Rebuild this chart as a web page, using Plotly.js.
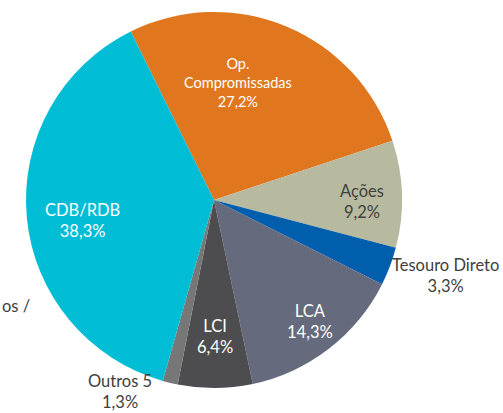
<!DOCTYPE html>
<html><head><meta charset="utf-8">
<script src="https://cdn.plot.ly/plotly-3.0.1.min.js"></script>
<style>body{margin:0;background:#fff}#c{width:503px;height:413px}</style>
</head><body><div id="c"></div>
<script>
const labels = ["Op.<br>Compromissadas", "Ações", "Tesouro Direto", "LCA", "LCI", "Outros 5", "CDB/RDB"];
const values = [27.2, 9.2, 3.3, 14.3, 6.4, 1.3, 38.3];
const colors = ["#E0771E", "#B7BA9F", "#005EAC", "#666A7D", "#4D4D4F", "#777777", "#00BDD6"];
const textColors = ["#FFFFFF", "#404040", "#404040", "#FFFFFF", "#FFFFFF", "#404040", "#FFFFFF"];
const textSizes = [14.5, 16.5, 16.5, 16.5, 16.5, 16.5, 16.5];
// label centre positions in pixels (layout only)
const labelPos = [[238, 82], [362, 201], [446, 275], [310, 321], [215, 336], [120, 391], [82, 220]];
const cutLabel = "os /";

const W = 503, H = 413, M = {l: 26, r: 101, t: 12, b: 25};
const pw = W - M.l - M.r, ph = H - M.t - M.b;
const toX = px => (px - M.l) / pw;
const toY = py => (H - M.b - py) / ph;
const total = values.reduce((a, b) => a + b, 0);
const fmt = v => (v / total * 100).toFixed(1).replace(".", ",") + "%";
const font = "Lato, 'Open Sans', sans-serif";

const ann = labels.map((lab, i) => ({
  text: lab + "<br>" + fmt(values[i]),
  xref: "paper", yref: "paper",
  x: toX(labelPos[i][0]), y: toY(labelPos[i][1]),
  xanchor: "center", yanchor: "middle", showarrow: false,
  font: {family: font, size: textSizes[i], color: textColors[i]}
}));
ann.push({
  text: cutLabel, xref: "paper", yref: "paper",
  x: toX(0), y: toY(306), xanchor: "left", yanchor: "middle",
  showarrow: false, font: {family: font, size: 16.5, color: "#404040"}
});

Plotly.newPlot("c", [{
  type: "pie",
  labels: labels,
  values: values,
  sort: false,
  direction: "clockwise",
  rotation: -26.3,
  marker: {colors: colors, line: {width: 0}},
  textinfo: "none",
  hoverinfo: "none",
  showlegend: false
}], {
  width: W, height: H,
  margin: M,
  paper_bgcolor: "#fff",
  annotations: ann
}, {staticPlot: true});
</script></body></html>
